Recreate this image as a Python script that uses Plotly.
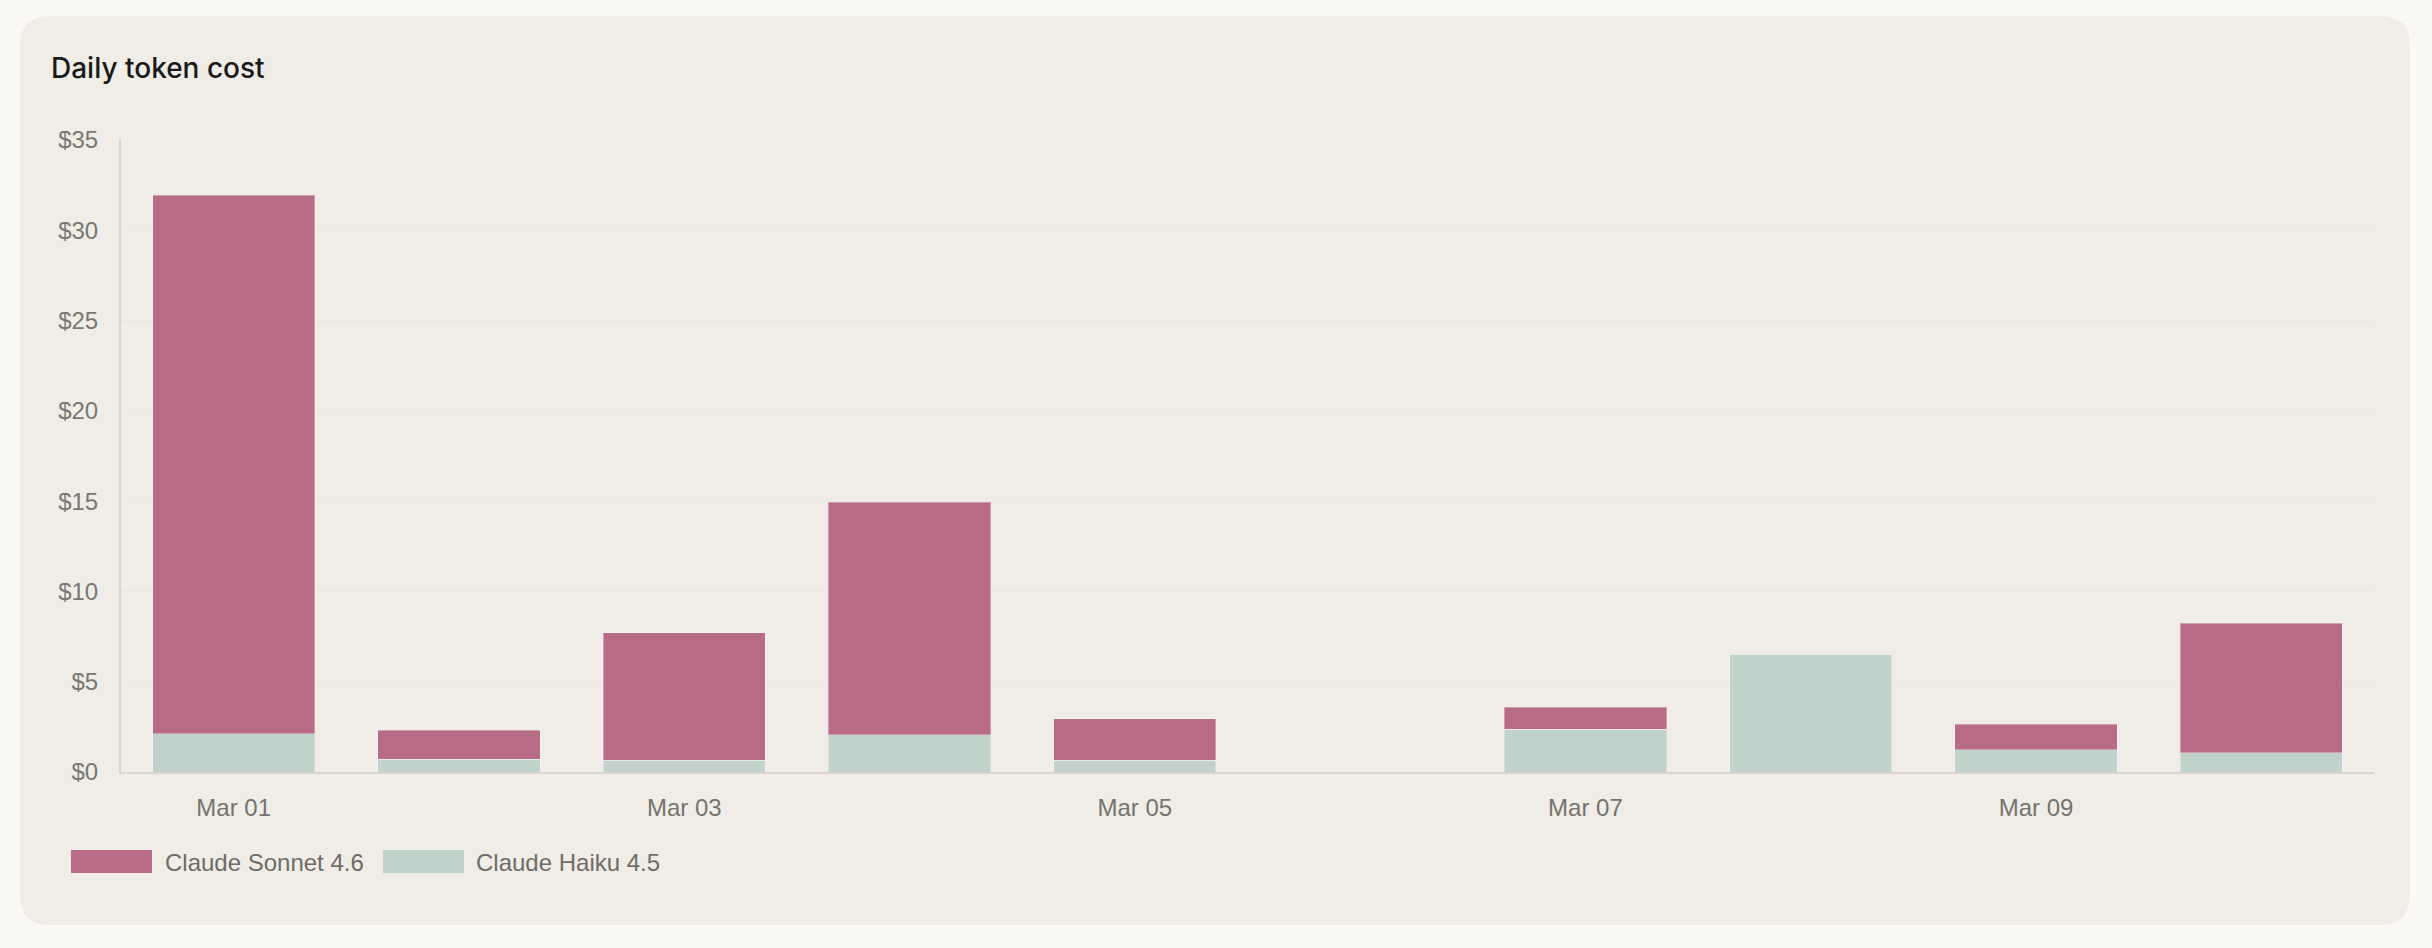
import plotly.graph_objects as go

days = ["Mar 01", "Mar 02", "Mar 03", "Mar 04", "Mar 05", "Mar 06", "Mar 07", "Mar 08", "Mar 09", "Mar 10"]
haiku = [2.13, 0.72, 0.65, 2.07, 0.66, 0.0, 2.38, 6.52, 1.23, 1.06]
sonnet = [29.80, 1.58, 7.05, 12.88, 2.29, 0.0, 1.20, 0.0, 1.42, 7.19]
tick_days = ["Mar 01", "Mar 03", "Mar 05", "Mar 07", "Mar 09"]
y_ticks = [0, 5, 10, 15, 20, 25, 30, 35]
y_tick_text = ["$" + str(v) for v in y_ticks]
series_names = ["Claude Sonnet 4.6", "Claude Haiku 4.5"]
SONNET = "#B86B84"
HAIKU = "#C0D2CA"

W, H = 2432, 948
L, R, T, B = 121, 2374, 140, 772


def px(x):
    return (x - L) / (R - L)


def py(y):
    return (B - y) / (B - T)


fig = go.Figure()
fig.add_trace(go.Bar(x=days, y=haiku, name=series_names[1], marker=dict(color=HAIKU, line=dict(width=1, color="rgba(255,255,255,0.35)")), showlegend=False))
fig.add_trace(go.Bar(x=days, y=sonnet, name=series_names[0], marker=dict(color=SONNET, line=dict(width=1, color="rgba(255,255,255,0.35)")), showlegend=False))

# card background with rounded corners
x0, x1, y0, y1, r = 20, 2410, 16, 925, 30
path = (
    f"M {px(x0 + r)} {py(y0)} L {px(x1 - r)} {py(y0)} Q {px(x1)} {py(y0)} {px(x1)} {py(y0 + r)} "
    f"L {px(x1)} {py(y1 - r)} Q {px(x1)} {py(y1)} {px(x1 - r)} {py(y1)} "
    f"L {px(x0 + r)} {py(y1)} Q {px(x0)} {py(y1)} {px(x0)} {py(y1 - r)} "
    f"L {px(x0)} {py(y0 + r)} Q {px(x0)} {py(y0)} {px(x0 + r)} {py(y0)} Z"
)
shapes = [dict(type="path", xref="paper", yref="paper", path=path, fillcolor="#F0EDE6", line=dict(width=0), layer="below")]

# legend swatches
sw = [(71, 152, SONNET), (383, 464, HAIKU)]
for a, b_, c in sw:
    shapes.append(dict(type="rect", xref="paper", yref="paper", x0=px(a), x1=px(b_), y0=py(850), y1=py(873), fillcolor=c, line=dict(width=0)))

annotations = [
    dict(text="Daily token cost", xref="paper", yref="paper", x=px(49), y=py(68), xanchor="left", yanchor="middle", showarrow=False,
         font=dict(family="Inter", size=28, color="#1A1A1A", weight=500)),
    dict(text=series_names[0], xref="paper", yref="paper", x=px(163), y=py(862), xanchor="left", yanchor="middle", showarrow=False,
         font=dict(family="Liberation Sans", size=24, color="#6F6C66")),
    dict(text=series_names[1], xref="paper", yref="paper", x=px(474), y=py(862), xanchor="left", yanchor="middle", showarrow=False,
         font=dict(family="Liberation Sans", size=24, color="#6F6C66")),
]

fig.update_layout(
    width=W, height=H,
    margin=dict(l=L, r=W - R, t=T, b=H - B, pad=0),
    paper_bgcolor="#F9F8F4",
    plot_bgcolor="rgba(0,0,0,0)",
    barmode="stack",
    bargap=0.28,
    shapes=shapes,
    annotations=annotations,
    showlegend=False,
    xaxis=dict(
        type="category", categoryorder="array", categoryarray=days,
        tickmode="array", tickvals=tick_days, ticktext=tick_days,
        showgrid=False, showline=True, linecolor="#D9D5CD", linewidth=2,
        ticks="", ticklabelstandoff=13,
        tickfont=dict(family="Liberation Sans", size=24, color="#76736D"),
        fixedrange=True,
    ),
    yaxis=dict(
        range=[0, 35], tickmode="array", tickvals=y_ticks, ticktext=y_tick_text,
        showgrid=True, gridcolor="#EBE8E1", gridwidth=1,
        showline=True, linecolor="#D9D5CD", linewidth=2,
        zeroline=False, ticks="", ticklabelstandoff=16,
        tickfont=dict(family="Liberation Sans", size=24, color="#7A7771"),
        fixedrange=True,
    ),
)

fig.write_html(
    "out.html",
    config={"displayModeBar": False},
    post_script="document.body.style.margin='0';document.body.style.background='#F9F8F4';document.body.style.overflow='hidden';",
)
